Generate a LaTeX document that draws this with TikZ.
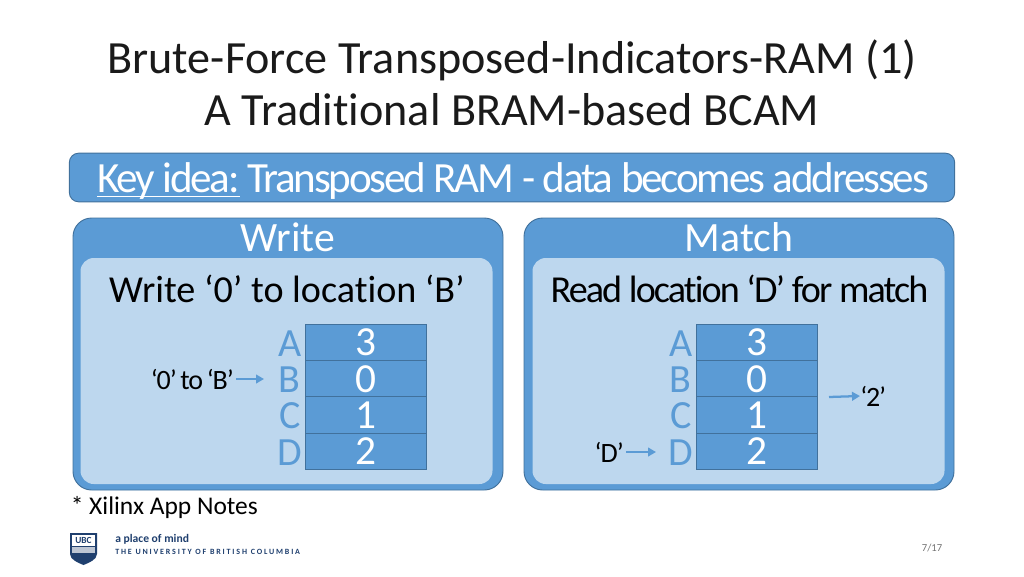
\documentclass[tikz,border=0pt]{standalone}
\usepackage{fontspec}
\setmainfont[Ligatures=NoCommon]{Carlito}
\newfontfamily\tightfont[LetterSpace=-5,Ligatures=NoCommon]{Carlito}
\newfontfamily\tightk[LetterSpace=-5.1,Ligatures=NoCommon]{Carlito}
\newfontfamily\tightb[LetterSpace=-4,Ligatures=NoCommon,WordSpace=0.7]{Carlito}
\definecolor{blue1}{HTML}{5B9BD5}
\definecolor{blue2}{HTML}{BDD7EE}
\definecolor{edge1}{HTML}{41719C}
\definecolor{ubc}{HTML}{1F3F6E}
\definecolor{ink}{HTML}{1A1A1A}
\usetikzlibrary{arrows.meta}
\newsavebox{\ulbox}
\newcommand{\lowrule}[1]{\sbox{\ulbox}{#1}\rlap{\raisebox{-3.6pt}{\rule{\wd\ulbox}{1.3pt}}}\usebox{\ulbox}}
\tikzset{
 panel/.style={draw=edge1,line width=0.7pt,fill=blue1,rounded corners=14pt,minimum width=322.5pt,minimum height=204pt,inner sep=0pt},
 inner/.style={fill=blue2,rounded corners=10pt,minimum width=309pt,minimum height=169.5pt,inner sep=0pt},
 cell/.style={draw=edge1,line width=0.6pt,fill=blue1,minimum width=90.5pt,minimum height=27.3pt,inner sep=0pt,text=white,font=\fontsize{31}{31}\selectfont},
 addr/.style={text=blue1,inner sep=0pt,font=\fontsize{30}{30}\selectfont},
 head/.style={text=white,inner sep=0pt,font=\fontsize{31.3}{31.3}\selectfont},
 sub/.style={text=black,inner sep=0pt,font=\fontsize{28.6}{28.6}\selectfont},
 small/.style={text=black,inner sep=0pt,font=\fontsize{21}{21}\selectfont},
 titletext/.style={inner sep=0pt,text=ink,font=\fontsize{34.6}{34.6}\selectfont},
 flow/.style={draw=blue1,line width=1.7pt,-{Triangle[length=6pt,width=6.5pt]}},
}
\begin{document}
\begin{tikzpicture}[x=0.75pt,y=-0.75pt]
\useasboundingbox (0,0) rectangle (1024,576);
\node[titletext] (t1) at (512,60) {Brute-Force Transposed-Indicators-RAM (1)};
\node[titletext] (t2) at (512,110) {A Traditional BRAM-based BCAM};
\node[draw=edge1,line width=0.7pt,fill=blue1,rounded corners=7pt,minimum width=664pt,minimum height=36.5pt,inner sep=0pt] (key) at (512,177.5) {};
\node[text=white,inner sep=0pt,anchor=base,font=\fontsize{32.3}{32.3}\selectfont\tightk] (keyt) at (513,192.5) {\lowrule{Key idea:} Transposed RAM - data becomes addresses};
% Write panel
\node[panel] (wp) at (288,354) {};
\node[inner] (wi) at (286.5,371) {};
\node[head] (wh) at (288,237) {Write};
\node[sub] (ws) at (287,289) {Write ‘0’ to location ‘B’};
\node[cell] (w3) at (366,342.5) {3};
\node[cell] (w0) at (366,379) {0};
\node[cell] (w1) at (366,415) {1};
\node[cell] (w2) at (366,451.5) {2};
\node[addr,anchor=east] (wA) at (302,344) {A};
\node[addr,anchor=east] (wB) at (301,380) {B};
\node[addr,anchor=east] (wC) at (301,416) {C};
\node[addr,anchor=east] (wD) at (302,453) {D};
\node[small,anchor=east] (wl) at (234,379) {\tightb ‘0’ to ‘B’};
\coordinate (wt) at (264,379);
\draw[flow] (wl.east) ++(2,0) -- (wt);
% Match panel
\node[panel] (mp) at (739,354) {};
\node[inner] (mi) at (738.5,371) {};
\node[head] (mh) at (739,237) {Match};
\node[sub] (ms) at (739.5,289) {\tightfont Read location ‘D’ for match};
\node[cell] (m3) at (757,342.5) {3};
\node[cell] (m0) at (757,379) {0};
\node[cell] (m1) at (757,415) {1};
\node[cell] (m2) at (757,451.5) {2};
\node[addr,anchor=east] (mA) at (693,344) {A};
\node[addr,anchor=east] (mB) at (692,380) {B};
\node[addr,anchor=east] (mC) at (692,416) {C};
\node[addr,anchor=east] (mD) at (693,453) {D};
\node[small,anchor=east] (mdl) at (624,452) {\tightb ‘D’};
\coordinate (mdt) at (656,452);
\draw[flow] (mdl.east) ++(2,0) -- (mdt);
\node[small,anchor=west] (m2l) at (860,396) {\tightb ‘2’};
\coordinate (m2s) at (829,397);
\draw[flow] (m2s) -- (m2l.west);
% footer
\node[inner sep=0pt,anchor=west,font=\fontsize{19.1}{19.1}\selectfont] (note) at (70.5,507) {* Xilinx App Notes};
\fill[ubc] (70,533) -- (97,533) -- (97,554) .. controls (97,560) and (88,563) .. (83.5,565) .. controls (79,563) and (70,560) .. (70,554) -- cycle;
\fill[white] (72,535) rectangle (95,546);
\node[inner sep=0pt,text=ubc,font=\fontsize{7}{7}\selectfont\bfseries] (ubcl) at (83.5,540.5) {UBC};
\fill[white!70!ubc] (72,547) rectangle (95,553);
\node[inner sep=0pt,anchor=west,text=ubc,font=\fontsize{8.7}{8.7}\selectfont\bfseries] (pm) at (115,539.5) {a place of mind};
\node[inner sep=0pt,anchor=west,text=ubc,font=\fontsize{6}{6}\selectfont\bfseries] (uni) at (115,551.5) {\addfontfeatures{LetterSpace=23}THE UNIVERSITY OF BRITISH COLUMBIA};
\node[inner sep=0pt,text=black!55,font=\fontsize{8}{8}\selectfont] (pg) at (932,548) {7/17};
\end{tikzpicture}
\end{document}
